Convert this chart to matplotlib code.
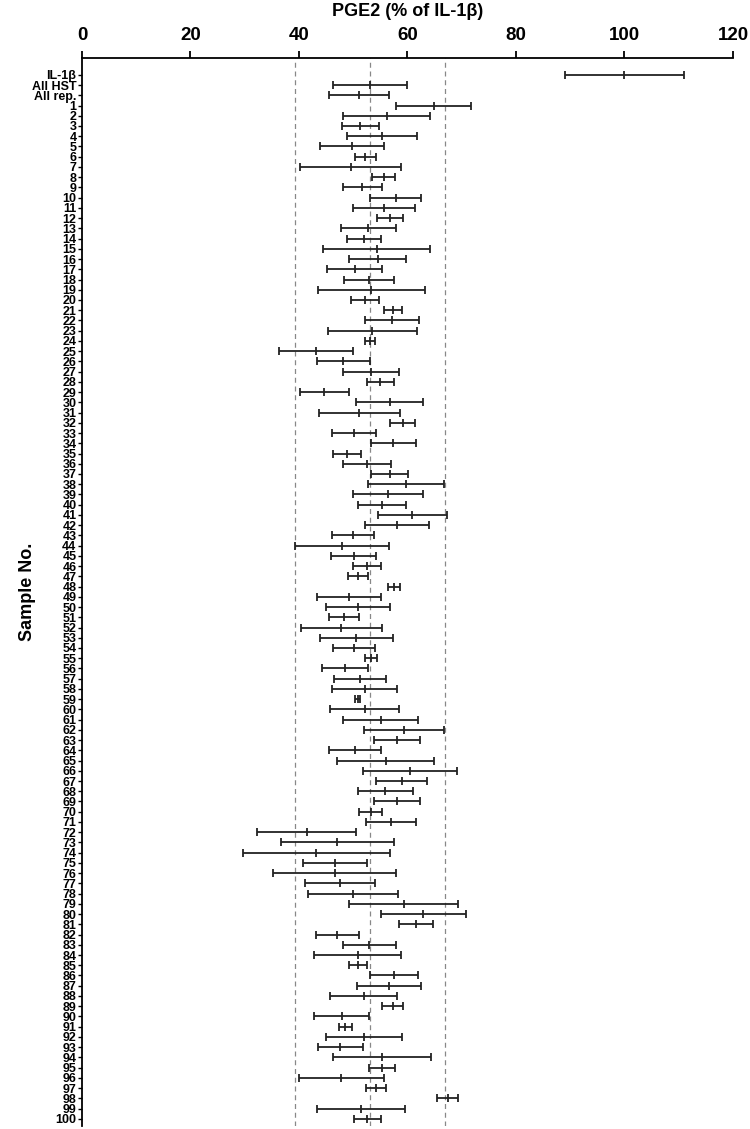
import matplotlib
matplotlib.use('Agg')
import matplotlib.pyplot as plt
import numpy as np

plt.rcParams['font.family'] = ['Liberation Sans', 'DejaVu Sans']
plt.rcParams['font.weight'] = 'bold'

# rows from top to bottom
labels = ['IL-1\u03b2', 'All HST', 'All rep.'] + [str(i) for i in range(1, 101)]

# mean PGE2 (% of IL-1b)
means = [100.0, 53.1, 51.1,
         64.8, 56.2, 51.3, 55.3, 49.8, 52.2, 49.5, 55.6, 51.7, 57.8,
         55.7, 56.8, 52.8, 52.0, 54.3, 54.5, 50.3, 52.9, 53.3, 52.2,
         57.3, 57.2, 53.5, 53.1, 43.1, 48.2, 53.2, 55.0, 44.7, 56.7,
         51.1, 59.1, 50.2, 57.4, 48.8, 52.6, 56.7, 59.7, 56.4, 55.3,
         60.9, 58.1, 49.9, 47.9, 50.1, 52.6, 50.9, 57.5, 49.2, 50.9,
         48.3, 47.8, 50.6, 50.2, 53.3, 48.5, 51.2, 52.1, 50.8, 52.1,
         55.1, 59.4, 58.0, 50.3, 56.0, 60.4, 58.9, 55.9, 58.1, 53.2,
         56.9, 41.4, 47.1, 43.2, 46.6, 46.6, 47.6, 49.9, 59.3, 62.9,
         61.6, 47.1, 53.0, 50.8, 50.9, 57.5, 56.6, 51.9, 57.3, 47.9,
         48.5, 51.9, 47.6, 55.3, 55.3, 47.8, 54.2, 67.4, 51.4, 52.6]

# standard deviations
sds = [11.0, 6.9, 5.5,
       6.9, 8.0, 3.45, 6.5, 5.85, 1.95, 9.25, 2.15, 3.55, 4.75,
       5.75, 2.45, 5.0, 3.1, 9.9, 5.2, 5.05, 4.6, 9.85, 2.55,
       1.65, 5.0, 8.2, 0.85, 6.85, 4.85, 5.15, 2.5, 4.45, 6.2,
       7.45, 2.25, 4.05, 4.2, 2.6, 4.45, 3.35, 7.0, 6.4, 4.4,
       6.35, 5.85, 3.85, 8.7, 4.15, 2.6, 1.9, 1.05, 5.85, 5.95,
       2.8, 7.45, 6.65, 3.9, 1.05, 4.2, 4.8, 5.95, 0.4, 6.35,
       6.9, 7.35, 4.25, 4.85, 8.9, 8.65, 4.75, 5.05, 4.3, 2.15,
       4.6, 9.05, 10.5, 13.5, 5.95, 11.35, 6.45, 8.3, 10.1, 7.8,
       3.1, 3.95, 4.95, 8.0, 1.65, 4.45, 5.9, 6.25, 1.95, 5.1,
       1.2, 7.0, 4.15, 9.05, 2.45, 7.85, 1.9, 2.0, 8.1, 2.5]

# All HST mean and +/- 2 SD reference lines
ref_lines = [39.3, 53.1, 66.9]

y = np.arange(len(labels))

fig = plt.figure(figsize=(7.5, 11.29), dpi=100)
ax = fig.add_axes([0.1093, 0.0027, 0.868, 0.946])

for xv in ref_lines:
    ax.axvline(xv, color='#888888', ls=(0, (4, 3)), lw=0.9, zorder=1)

ax.errorbar(means, y, xerr=sds, fmt='|', color='#222222', ecolor='#222222',
            elinewidth=1.3, capsize=3, capthick=1.3, markersize=6, mew=1.3,
            zorder=3)

ax.set_xlim(0, 120)
ax.set_ylim(len(labels) - 0.3, -1.65)
ax.xaxis.tick_top()
ax.xaxis.set_label_position('top')
ax.set_xticks(np.arange(0, 121, 20))
ax.tick_params(axis='x', labelsize=13.5, width=1.3, length=5, pad=5)
ax.set_yticks(y)
ax.set_yticklabels(labels, fontsize=9, fontweight='bold')
ax.tick_params(axis='y', width=1.0, length=3, pad=1)
for lab in ax.get_xticklabels():
    lab.set_fontweight('bold')

ax.set_xlabel('PGE2 (% of IL-1\u03b2)', fontsize=13, fontweight='bold',
              labelpad=8)
ax.set_ylabel('Sample No.', fontsize=13, fontweight='bold', labelpad=-3)

ax.spines['right'].set_visible(False)
ax.spines['bottom'].set_visible(False)
ax.spines['top'].set_linewidth(1.3)
ax.spines['left'].set_linewidth(1.3)

fig.savefig('out.png', dpi=100)
plt.close(fig)
